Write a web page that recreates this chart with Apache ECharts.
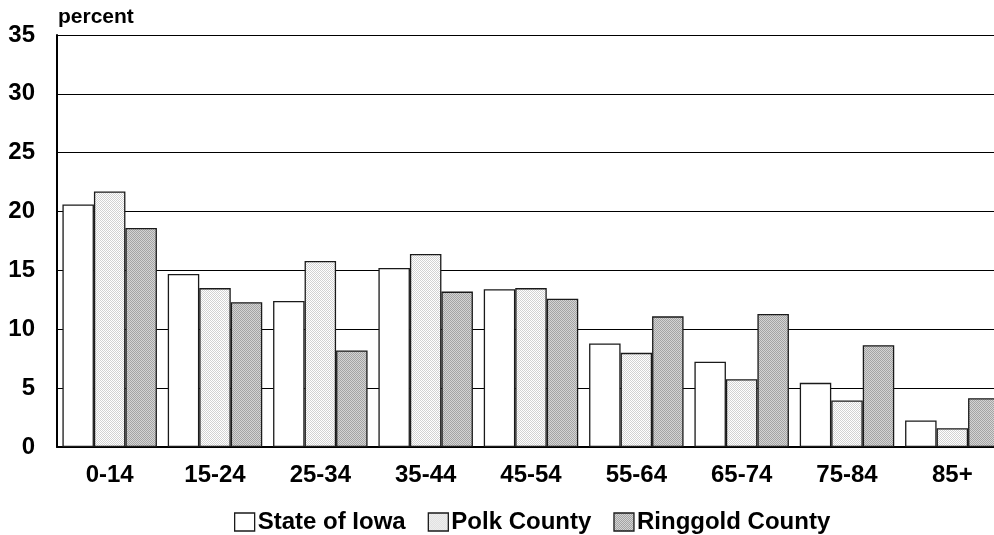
<!DOCTYPE html>
<html>
<head>
<meta charset="utf-8">
<script src="https://cdn.jsdelivr.net/npm/echarts@6/dist/echarts.min.js"></script>
<style>
html,body{margin:0;padding:0;background:#fff;}
#chart{width:994px;height:535px;}
</style>
</head>
<body>
<div id="chart"></div>
<script>
const categories = ['0-14','15-24','25-34','35-44','45-54','55-64','65-74','75-84','85+'];
const seriesNames = ['State of Iowa','Polk County','Ringgold County'];
const iowa = [20.6,14.7,12.4,15.2,13.4,8.8,7.25,5.45,2.25];
const polk = [21.7,13.5,15.8,16.4,13.5,8.0,5.75,3.95,1.6];
const ringgold = [18.6,12.3,8.2,13.2,12.6,11.1,11.3,8.65,4.15];
const yTicks = [0,5,10,15,20,25,30,35];

function checker(a, b){
  const c = document.createElement('canvas');
  c.width = 2; c.height = 2;
  const ctx = c.getContext('2d');
  ctx.fillStyle = a; ctx.fillRect(0,0,2,2);
  ctx.fillStyle = b; ctx.fillRect(0,0,1,1); ctx.fillRect(1,1,1,1);
  return {image: c, repeat: 'repeat'};
}
const fills = ['#ffffff', checker('#ffffff','#d2d2d2'), checker('#d4d4d4','#a4a4a4')];
const FONT = '"Liberation Sans", Arial, sans-serif';

const chart = echarts.init(document.getElementById('chart'), null, {renderer:'canvas'});
const mk = (name, data, i) => ({
  name, type:'bar', data,
  barGap:'0%', barCategoryGap:'10.3%',
  itemStyle:{color:fills[i], borderColor:'#1a1a1a', borderWidth:1.3},
  emphasis:{disabled:true}
});
chart.setOption({
  animation:false,
  backgroundColor:'#fff',
  graphic:[{type:'text', left:58, top:7, style:{text:'percent', font:'bold 21px "Liberation Sans", Arial, sans-serif', fill:'#000'}}],
  legend:{
    left:229, top:505, itemWidth:20, itemHeight:18, itemGap:22,
    icon:'rect',
    textStyle:{fontFamily:FONT, fontWeight:'bold', fontSize:24, color:'#000', padding:[0,0,0,-2]},
    data:seriesNames.map((n,i)=>({name:n, itemStyle:{borderColor:'#1a1a1a', borderWidth:1.3}}))
  },
  grid:{left:57, top:35, width:948, height:412, containLabel:false, outerBoundsMode:'none'},
  xAxis:{
    type:'category', data:categories,
    axisLine:{lineStyle:{color:'#000', width:2}},
    axisTick:{show:false},
    axisLabel:{margin:16, fontFamily:FONT, fontWeight:'bold', fontSize:24, color:'#000'}
  },
  yAxis:{
    type:'value', min:yTicks[0], max:yTicks[yTicks.length-1], interval:5,
    axisLine:{show:true, lineStyle:{color:'#000', width:2}},
    axisTick:{show:false},
    splitLine:{lineStyle:{color:'#000', width:1}},
    axisLabel:{margin:22, fontFamily:FONT, fontWeight:'bold', fontSize:24, color:'#000'}
  },
  series:[mk(seriesNames[0], iowa, 0), mk(seriesNames[1], polk, 1), mk(seriesNames[2], ringgold, 2)]
});
</script>
</body>
</html>
